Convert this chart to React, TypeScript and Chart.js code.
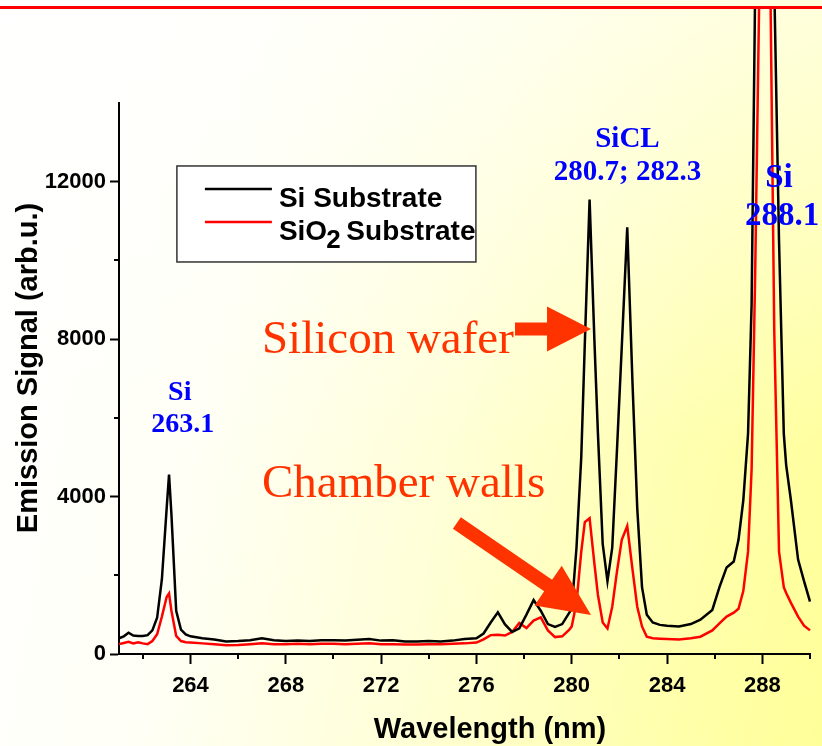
import React, { useEffect, useRef } from 'react';
import { Chart, registerables } from 'chart.js';

Chart.register(...registerables);

// ---------------- data ----------------
const wavelengths = [
  261.0, 261.2, 261.4, 261.6, 261.8, 262.0, 262.2, 262.4, 262.6, 262.8,
  263.0, 263.1, 263.2, 263.4, 263.6, 263.8, 264.0, 264.5, 265.0, 265.5,
  266.0, 266.5, 267.0, 267.5, 268.0, 268.5, 269.0, 269.5, 270.0, 270.5,
  271.0, 271.5, 272.0, 272.5, 273.0, 273.5, 274.0, 274.5, 275.0, 275.5,
  276.0, 276.3, 276.6, 276.9, 277.2, 277.5, 277.8, 278.1, 278.4, 278.7,
  279.0, 279.3, 279.6, 279.9, 280.0, 280.2, 280.4, 280.55, 280.75, 280.95,
  281.1, 281.3, 281.5, 281.7, 281.9, 282.1, 282.33, 282.55, 282.75, 282.95,
  283.15, 283.4, 283.7, 284.0, 284.5, 285.0, 285.4, 285.9, 286.2, 286.5,
  286.8, 287.0, 287.2, 287.4, 287.55, 287.7, 287.9, 288.1, 288.3, 288.5,
  288.7, 288.9, 289.0, 289.2, 289.5, 289.75, 290.0,
];

const siSubstrate = [
  400, 450, 540, 470, 460, 460, 480, 600, 920, 1900,
  3700, 4560, 3550, 1100, 620, 500, 450, 400, 370, 320,
  330, 350, 400, 350, 330, 340, 330, 350, 350, 340,
  360, 380, 340, 350, 320, 320, 330, 320, 340, 380,
  400, 520, 800, 1060, 750, 560, 650, 1000, 1370, 1100,
  760, 690, 760, 1050, 1150, 2700, 5000, 7900, 11550, 8000,
  5600, 2800, 1850, 2700, 5200, 7800, 10840, 6900, 3700, 1700,
  1000, 800, 740, 720, 700, 760, 870, 1120, 1700, 2200,
  2350, 2900, 3900, 5600, 8900, 17000, 30000, 40000, 30000, 17000,
  10500, 5600, 4800, 3900, 2400, 1850, 1330,
];

const sio2Substrate = [
  250, 280, 310, 270, 300, 270, 250, 330, 500, 950,
  1450, 1540, 1100, 460, 330, 300, 290, 270, 250, 220,
  230, 250, 270, 250, 250, 260, 250, 260, 260, 250,
  260, 270, 250, 250, 240, 240, 250, 250, 260, 270,
  290, 370, 480, 490, 470, 560, 790, 660, 850, 930,
  600, 430, 450, 620, 700, 1300, 2600, 3350, 3450, 2300,
  1500, 800, 650, 1200, 2100, 2900, 3250, 2150, 1200, 700,
  440, 400, 390, 380, 370, 400, 440, 600, 780, 950,
  1050, 1150, 1600, 2600, 4700, 9700, 18000, 40000, 19000, 8200,
  2600, 1700, 1550, 1300, 950, 720, 600,
];

const seriesLabels = ['Si Substrate', 'SiO₂ Substrate'];
const xTickValues = [264, 268, 272, 276, 280, 284, 288];
const xMinorTickValues = [262, 266, 270, 274, 278, 282, 286, 290];
const yTickValues = [0, 4000, 8000, 12000];
const yMinorTickValues = [2000, 6000, 10000];
const xTitle = 'Wavelength (nm)';
const yTitle = 'Emission Signal (arb.u.)';
const peakLabelSi263 = ['Si', '263.1'];
const peakLabelSiCl = ['SiCL', '280.7; 282.3'];
const peakLabelSi288 = ['Si', '288.1'];
const calloutWafer = 'Silicon wafer';
const calloutWalls = 'Chamber walls';

// ---------------- styles ----------------
const SANS = "Arial, 'Liberation Sans', sans-serif";
const SERIF = "'Times New Roman', 'Liberation Serif', serif";
const BLUE = '#0000ff';
const ORANGE = '#ff3300';
const BG =
  'linear-gradient(to bottom, rgba(255,255,255,0.6) 0%, rgba(255,255,255,0) 60%), ' +
  'linear-gradient(100deg, #ffffff 0%, #fffff6 28%, #ffffd8 55%, #ffffb0 80%, #ffff99 100%)';

function drawArrow(ctx: CanvasRenderingContext2D, x1: number, y1: number, x2: number, y2: number,
  shaftW: number, headL: number, headW: number) {
  const dx = x2 - x1, dy = y2 - y1;
  const L = Math.hypot(dx, dy);
  const ux = dx / L, uy = dy / L;
  const px = -uy, py = ux;
  const bx = x2 - ux * headL, by = y2 - uy * headL;
  ctx.beginPath();
  ctx.moveTo(x1 + px * shaftW / 2, y1 + py * shaftW / 2);
  ctx.lineTo(bx + px * shaftW / 2, by + py * shaftW / 2);
  ctx.lineTo(bx + px * headW / 2, by + py * headW / 2);
  ctx.lineTo(x2, y2);
  ctx.lineTo(bx - px * headW / 2, by - py * headW / 2);
  ctx.lineTo(bx - px * shaftW / 2, by - py * shaftW / 2);
  ctx.lineTo(x1 - px * shaftW / 2, y1 - py * shaftW / 2);
  ctx.closePath();
  ctx.fill();
}

function drawLegendLabel(ctx: CanvasRenderingContext2D, text: string, x: number, y: number, size: number) {
  const idx = text.indexOf('₂');
  ctx.font = `bold ${size}px ${SANS}`;
  if (idx < 0) {
    ctx.fillText(text, x, y);
    return;
  }
  const a = text.slice(0, idx);
  const b = text.slice(idx + 1);
  ctx.fillText(a, x, y);
  let cx = x + ctx.measureText(a).width - 1;
  ctx.font = `bold ${size - 2}px ${SANS}`;
  ctx.fillText('2', cx, y + 8);
  cx += ctx.measureText('2').width - 2;
  ctx.font = `bold ${size}px ${SANS}`;
  ctx.fillText(b, cx, y);
}

const decorPlugin = {
  id: 'decor',
  afterDraw(chart: any) {
    const ctx: CanvasRenderingContext2D = chart.ctx;
    const xs = chart.scales.x;
    const ys = chart.scales.y;
    const X = (v: number) => xs.getPixelForValue(v);
    const Y = (v: number) => ys.getPixelForValue(v);
    const area = chart.chartArea;
    ctx.save();

    // minor ticks
    ctx.strokeStyle = '#000';
    ctx.lineWidth = 2;
    ctx.beginPath();
    xMinorTickValues.forEach((v) => {
      const x = Math.round(X(v));
      ctx.moveTo(x, area.bottom);
      ctx.lineTo(x, area.bottom + 5);
    });
    yMinorTickValues.forEach((v) => {
      const y = Math.round(Y(v));
      ctx.moveTo(area.left, y);
      ctx.lineTo(area.left - 5, y);
    });
    ctx.stroke();

    // axis titles
    ctx.fillStyle = '#000';
    ctx.font = `bold 29px ${SANS}`;
    ctx.textAlign = 'center';
    ctx.textBaseline = 'alphabetic';
    ctx.fillText(xTitle, X(276.57), area.bottom + 84);
    ctx.save();
    ctx.translate(37, Y(7267));
    ctx.rotate(-Math.PI / 2);
    ctx.fillText(yTitle, 0, 0);
    ctx.restore();

    // legend
    const lx = X(263.43), ly = Y(12400);
    const lw = 299, lh = 96;
    ctx.fillStyle = '#ffffff';
    ctx.fillRect(lx, ly, lw, lh);
    ctx.strokeStyle = '#333333';
    ctx.lineWidth = 1.5;
    ctx.strokeRect(lx, ly, lw, lh);
    chart.data.datasets.forEach((ds: any, i: number) => {
      const yy = ly + 23 + i * 33;
      ctx.strokeStyle = ds.borderColor;
      ctx.lineWidth = 2.5;
      ctx.beginPath();
      ctx.moveTo(lx + 28, yy);
      ctx.lineTo(lx + 95, yy);
      ctx.stroke();
      ctx.fillStyle = '#000';
      ctx.textAlign = 'left';
      drawLegendLabel(ctx, ds.label, lx + 102, yy + 18, 28);
    });

    // peak labels (blue)
    ctx.fillStyle = BLUE;
    ctx.textAlign = 'center';
    ctx.font = `bold 28px ${SERIF}`;
    ctx.fillText(peakLabelSi263[0], X(263.55), Y(6454));
    ctx.fillText(peakLabelSi263[1], X(263.68), Y(5640));
    ctx.font = `bold 29px ${SERIF}`;
    ctx.fillText(peakLabelSiCl[0], X(282.34), Y(12880));
    ctx.fillText(peakLabelSiCl[1], X(282.34), Y(12040));
    ctx.font = `bold 33px ${SERIF}`;
    ctx.fillText(peakLabelSi288[0], X(288.7), Y(11866));
    ctx.fillText(peakLabelSi288[1], X(288.83), Y(10900));

    // callouts (orange)
    ctx.fillStyle = ORANGE;
    ctx.textAlign = 'left';
    ctx.font = `47px ${SERIF}`;
    ctx.fillText(calloutWafer, X(267.0), Y(7648));
    ctx.fillText(calloutWalls, X(267.0), Y(3989));
    drawArrow(ctx, X(277.62), Y(8258), X(280.81), Y(8258), 13, 44, 45);
    drawArrow(ctx, X(275.18), Y(3328), X(280.81), Y(991), 14, 52, 48);

    // top red rule
    ctx.fillStyle = '#ff0000';
    ctx.fillRect(0, 6, chart.width, 3);

    ctx.restore();
  },
};

export default function App() {
  const ref = useRef<HTMLCanvasElement>(null);

  useEffect(() => {
    const prevMargin = document.body.style.margin;
    document.body.style.margin = '0';
    const mk = (vals: number[]) => wavelengths.map((x, i) => ({ x, y: vals[i] }));
    const clip = { left: 1, top: 95, right: 1, bottom: 1 };
    const chart = new Chart(ref.current as HTMLCanvasElement, {
      type: 'line',
      data: {
        datasets: [
          {
            label: seriesLabels[0],
            data: mk(siSubstrate),
            borderColor: '#000000',
            borderWidth: 2.5,
            pointRadius: 0,
            tension: 0,
            fill: false,
            clip,
          },
          {
            label: seriesLabels[1],
            data: mk(sio2Substrate),
            borderColor: '#ff0000',
            borderWidth: 2.5,
            pointRadius: 0,
            tension: 0,
            fill: false,
            clip,
          },
        ],
      },
      options: {
        responsive: false,
        maintainAspectRatio: false,
        animation: false,
        events: [],
        layout: { padding: { left: 0, top: 103, right: 12, bottom: 0 } },
        plugins: { legend: { display: false }, tooltip: { enabled: false } },
        scales: {
          x: {
            type: 'linear',
            min: 261,
            max: 290,
            afterFit: (s: any) => { s.height = 92; },
            afterBuildTicks: (s: any) => { s.ticks = xTickValues.map((value) => ({ value })); },
            grid: { display: true, drawOnChartArea: false, drawTicks: true, tickLength: 10, tickWidth: 2, tickColor: '#000' },
            border: { display: true, color: '#000', width: 2 },
            ticks: {
              color: '#000',
              font: { family: SANS, size: 22, weight: 'bold' },
              padding: 9,
              maxRotation: 0,
              autoSkip: false,
              callback: (v: any) => String(v),
            },
          },
          y: {
            type: 'linear',
            min: 0,
            max: 14000,
            afterFit: (s: any) => { s.width = 119; },
            afterBuildTicks: (s: any) => { s.ticks = yTickValues.map((value) => ({ value })); },
            grid: { display: true, drawOnChartArea: false, drawTicks: true, tickLength: 9, tickWidth: 2, tickColor: '#000' },
            border: { display: true, color: '#000', width: 2 },
            ticks: {
              color: '#000',
              font: { family: SANS, size: 22, weight: 'bold' },
              padding: 4,
              autoSkip: false,
              callback: (v: any) => String(v),
            },
          },
        },
      } as any,
      plugins: [decorPlugin],
    });
    return () => {
      chart.destroy();
      document.body.style.margin = prevMargin;
    };
  }, []);

  return (
    <div style={{ position: 'fixed', left: 0, top: 0, width: 822, height: 746, background: BG }}>
      <canvas ref={ref} width={822} height={746} style={{ display: 'block' }} />
    </div>
  );
}
